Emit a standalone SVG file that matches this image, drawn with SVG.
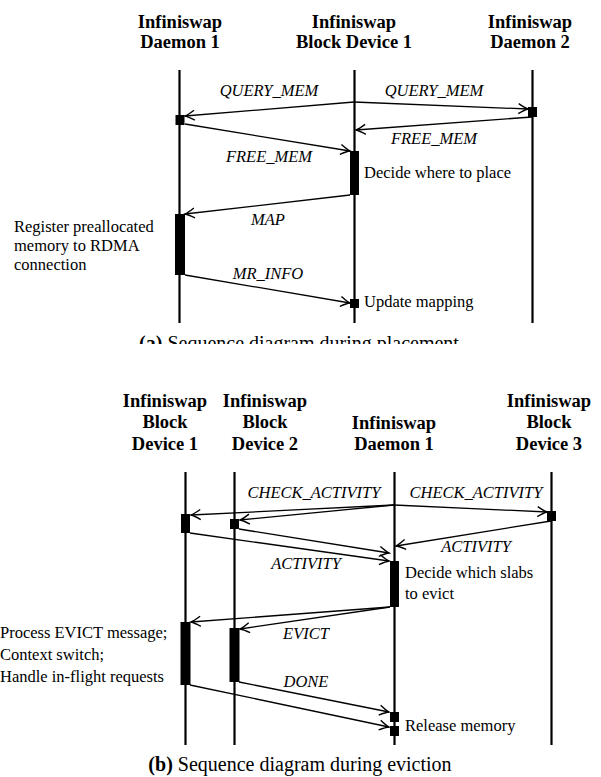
<svg xmlns="http://www.w3.org/2000/svg" width="601" height="777" viewBox="0 0 601 777">
  <style>
    text { font-family: "Liberation Serif", "Times New Roman", serif; fill: #000; }
    .hd { font-size: 18.5px; font-weight: bold; text-anchor: middle; }
    .msg { font-size: 16.5px; font-style: italic; text-anchor: middle; }
    .note { font-size: 16.5px; }
    .cap { font-size: 20px; text-anchor: middle; }
    .life { stroke: #000; stroke-width: 2.2; fill: none; }
    .arr { stroke: #000; stroke-width: 1.3; fill: none; marker-end: url(#ah); }
    .act { fill: #000; }
  </style>
  <defs>
    <marker id="ah" viewBox="-11 -6 13 12" refX="0" refY="0" markerWidth="13" markerHeight="12" markerUnits="userSpaceOnUse" orient="auto">
      <path d="M-9.5,-5 Q-3,-0.9 0,0 Q-3,0.9 -9.5,5" fill="none" stroke="#000" stroke-width="1.4"/>
    </marker>
    <clipPath id="capClip">
      <rect x="0" y="320" width="601" height="24"/>
    </clipPath>
  </defs>

  <rect width="601" height="777" fill="#fff"/>

  <!-- (a) placement -->
  <g id="a-daemon1">
    <text class="hd" x="180" y="28">Infiniswap</text>
    <text class="hd" x="180" y="48">Daemon 1</text>
    <line class="life" x1="179.5" y1="70" x2="179.5" y2="323"/>
    <rect class="act" x="175.5" y="115" width="9" height="10"/>
    <rect class="act" x="175" y="214" width="10" height="61"/>
    <text class="note" x="14" y="232">Register preallocated</text>
    <text class="note" x="14" y="251">memory to RDMA</text>
    <text class="note" x="14" y="270">connection</text>
  </g>
  <g id="a-blockdev1">
    <text class="hd" x="354" y="28">Infiniswap</text>
    <text class="hd" x="354" y="48">Block Device 1</text>
    <line class="life" x1="354.5" y1="70" x2="354.5" y2="323"/>
    <rect class="act" x="350" y="151" width="9" height="44"/>
    <rect class="act" x="350" y="299" width="9" height="9"/>
    <text class="note" x="364" y="178">Decide where to place</text>
    <text class="note" x="364" y="307">Update mapping</text>
  </g>
  <g id="a-daemon2">
    <text class="hd" x="530" y="28">Infiniswap</text>
    <text class="hd" x="530" y="48">Daemon 2</text>
    <line class="life" x1="532.5" y1="70" x2="532.5" y2="323"/>
    <rect class="act" x="528" y="107" width="9" height="10"/>
  </g>
  <g id="a-connectors">
    <line class="arr" x1="354" y1="102" x2="185" y2="116"/>
    <line class="arr" x1="354" y1="102" x2="528" y2="109"/>
    <line class="arr" x1="532" y1="117" x2="356" y2="130"/>
    <line class="arr" x1="185" y1="124" x2="350" y2="151"/>
    <line class="arr" x1="350" y1="195" x2="185" y2="214"/>
    <line class="arr" x1="185" y1="275" x2="350" y2="303"/>
    <text class="msg" x="269" y="96">QUERY_MEM</text>
    <text class="msg" x="434" y="96">QUERY_MEM</text>
    <text class="msg" x="434" y="144">FREE_MEM</text>
    <text class="msg" x="269" y="162">FREE_MEM</text>
    <text class="msg" x="268" y="225">MAP</text>
    <text class="msg" x="268" y="279">MR_INFO</text>
  </g>
  <g id="a-caption" clip-path="url(#capClip)">
    <text class="cap" x="299" y="350"><tspan font-weight="bold">(a)</tspan> Sequence diagram during placement</text>
  </g>

  <!-- (b) eviction -->
  <g id="b-blockdev1">
    <text class="hd" x="165" y="407">Infiniswap</text>
    <text class="hd" x="165" y="428">Block</text>
    <text class="hd" x="165" y="450">Device 1</text>
    <line class="life" x1="185.5" y1="472" x2="185.5" y2="745"/>
    <rect class="act" x="181" y="514" width="9" height="19"/>
    <rect class="act" x="180.5" y="622" width="10" height="63"/>
    <text class="note" x="0" y="638">Process EVICT message;</text>
    <text class="note" x="0" y="660">Context switch;</text>
    <text class="note" x="0" y="682">Handle in-flight requests</text>
  </g>
  <g id="b-blockdev2">
    <text class="hd" x="265" y="407">Infiniswap</text>
    <text class="hd" x="265" y="428">Block</text>
    <text class="hd" x="265" y="450">Device 2</text>
    <line class="life" x1="234.5" y1="472" x2="234.5" y2="745"/>
    <rect class="act" x="230" y="519" width="9" height="10"/>
    <rect class="act" x="229.5" y="628" width="10" height="54"/>
  </g>
  <g id="b-daemon1">
    <text class="hd" x="394" y="429">Infiniswap</text>
    <text class="hd" x="394" y="450">Daemon 1</text>
    <line class="life" x1="394.5" y1="472" x2="394.5" y2="745"/>
    <rect class="act" x="390" y="561" width="9" height="46"/>
    <rect class="act" x="390" y="712" width="9" height="10"/>
    <rect class="act" x="390" y="726" width="9" height="10"/>
    <text class="note" x="405" y="578">Decide which slabs</text>
    <text class="note" x="405" y="599">to evict</text>
    <text class="note" x="405" y="731">Release memory</text>
  </g>
  <g id="b-blockdev3">
    <text class="hd" x="549" y="407">Infiniswap</text>
    <text class="hd" x="549" y="428">Block</text>
    <text class="hd" x="549" y="450">Device 3</text>
    <line class="life" x1="551.5" y1="472" x2="551.5" y2="745"/>
    <rect class="act" x="547" y="511" width="9" height="10"/>
  </g>
  <g id="b-connectors">
    <line class="arr" x1="394" y1="505" x2="191" y2="515"/>
    <line class="arr" x1="394" y1="505" x2="240" y2="520"/>
    <line class="arr" x1="394" y1="505" x2="547" y2="512"/>
    <line class="arr" x1="551" y1="521" x2="396" y2="546"/>
    <line class="arr" x1="239" y1="529" x2="389" y2="553"/>
    <line class="arr" x1="190" y1="533" x2="389" y2="561"/>
    <line class="arr" x1="390" y1="607" x2="191" y2="622"/>
    <line class="arr" x1="390" y1="607" x2="240" y2="629"/>
    <line class="arr" x1="239" y1="682" x2="389" y2="712"/>
    <line class="arr" x1="190" y1="685" x2="389" y2="727"/>
    <text class="msg" x="314" y="498">CHECK_ACTIVITY</text>
    <text class="msg" x="476" y="498">CHECK_ACTIVITY</text>
    <text class="msg" x="476" y="552">ACTIVITY</text>
    <text class="msg" x="306" y="569">ACTIVITY</text>
    <text class="msg" x="306" y="639">EVICT</text>
    <text class="msg" x="306" y="687">DONE</text>
  </g>
  <g id="b-caption">
    <text class="cap" x="300" y="771"><tspan font-weight="bold">(b)</tspan> Sequence diagram during eviction</text>
  </g>
</svg>
